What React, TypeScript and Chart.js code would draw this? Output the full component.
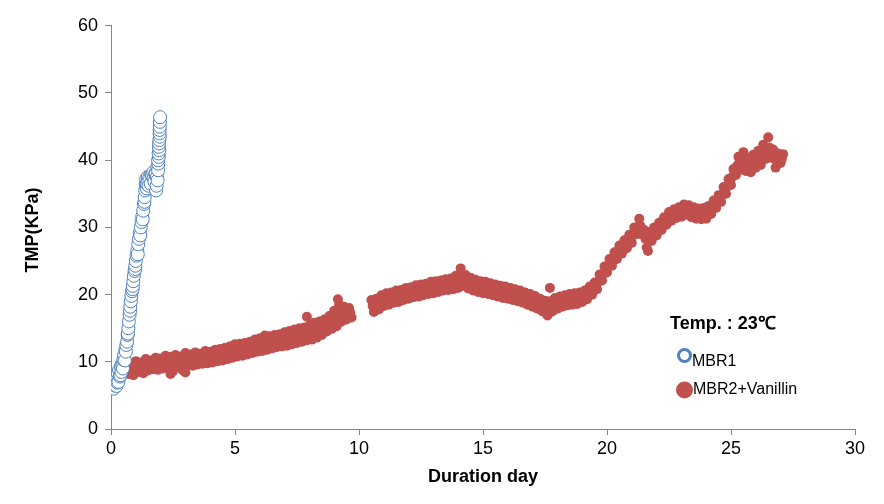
import React, { useEffect, useRef } from "react";
import { Chart, registerables } from "chart.js";

Chart.register(...registerables);

const xTitle = "Duration day";
const yTitle = "TMP(KPa)";
const tempLabel = "Temp. : 23℃";
const seriesNames = ["MBR1", "MBR2+Vanillin"];
const xTicks = [0, 5, 10, 15, 20, 25, 30];
const yTicks = [0, 10, 20, 30, 40, 50, 60];

const mbr1Days = [
  0.0, 0.02, 0.05, 0.08, 0.1, 0.12, 0.14, 0.15, 0.18, 0.2,
  0.22, 0.25, 0.26, 0.28, 0.3, 0.33, 0.36, 0.38, 0.4, 0.42,
  0.45, 0.46, 0.48, 0.5, 0.53, 0.56, 0.58, 0.6, 0.62, 0.65,
  0.67, 0.68, 0.7, 0.72, 0.75, 0.77, 0.78, 0.8, 0.82, 0.85,
  0.87, 0.88, 0.9, 0.92, 0.95, 0.97, 0.98, 1.0, 1.03, 1.06,
  1.08, 1.1, 1.13, 1.16, 1.18, 1.2, 1.23, 1.26, 1.28, 1.3,
  1.33, 1.35, 1.36, 1.38, 1.4, 1.42, 1.44, 1.45, 1.48, 1.5,
  1.52, 1.55, 1.6, 1.62, 1.65, 1.7, 1.72, 1.75, 1.78, 1.8,
  1.82, 1.84, 1.85, 1.87, 1.88, 1.9, 1.91, 1.9, 1.93, 1.92,
  1.95, 1.93, 1.94, 1.95, 1.97, 1.96, 1.96, 1.97, 1.97, 1.98,
];
const mbr1Tmp = [
  6.8, 7.5, 6.2, 7.0, 6.0, 7.8, 7.6, 6.5, 7.2, 8.0,
  6.4, 7.5, 6.9, 8.3, 7.0, 8.8, 7.8, 8.0, 9.3, 8.5,
  9.8, 9.5, 9.0, 10.3, 11.0, 10.2, 11.8, 11.5, 12.5, 13.0,
  14.0, 14.2, 15.0, 16.0, 17.0, 17.6, 18.2, 19.0, 19.8, 20.5,
  20.8, 21.3, 22.0, 22.8, 23.5, 23.8, 24.3, 25.0, 25.8, 26.5,
  26.0, 27.5, 28.3, 29.2, 28.8, 30.0, 30.8, 31.6, 31.2, 32.5,
  33.5, 33.8, 34.5, 35.5, 36.5, 37.2, 35.8, 36.5, 37.5, 36.8,
  36.2, 37.5, 36.5, 37.8, 37.8, 38.2, 37.3, 36.8, 38.0, 38.0,
  35.5, 36.2, 37.5, 39.0, 37.0, 38.5, 39.5, 40.0, 40.5, 41.0,
  41.5, 42.0, 42.5, 43.0, 43.5, 44.0, 44.5, 45.0, 45.7, 46.4,
];

const mbr2Days = [
  0.6, 0.7, 0.8, 0.9, 1.0, 1.1, 1.2, 1.3, 1.4, 1.5,
  1.6, 1.7, 1.8, 1.9, 2.0, 2.1, 2.2, 2.3, 2.4, 2.5,
  2.6, 2.7, 2.8, 2.9, 3.0, 3.1, 3.2, 3.3, 3.4, 3.5,
  3.6, 3.7, 3.8, 3.9, 4.0, 4.1, 4.2, 4.3, 4.4, 4.5,
  4.6, 4.7, 4.8, 4.9, 5.0, 5.1, 5.2, 5.3, 5.4, 5.5,
  5.6, 5.7, 5.8, 5.9, 6.0, 6.1, 6.2, 6.3, 6.4, 6.5,
  6.6, 6.7, 6.8, 6.9, 7.0, 7.1, 7.2, 7.3, 7.4, 7.5,
  7.6, 7.7, 7.8, 7.9, 8.0, 8.1, 8.2, 8.3, 8.4, 8.5,
  8.6, 8.7, 8.8, 8.9, 9.0, 9.1, 9.2, 9.3, 9.4, 9.5,
  9.6, 9.7,
  10.5, 10.6, 10.7, 10.8, 10.9, 11.0, 11.1, 11.2, 11.3, 11.4,
  11.5, 11.6, 11.7, 11.8, 11.9, 12.0, 12.1, 12.2, 12.3, 12.4,
  12.5, 12.6, 12.7, 12.8, 12.9, 13.0, 13.1, 13.2, 13.3, 13.4,
  13.5, 13.6, 13.7, 13.8, 13.9, 14.0, 14.1, 14.2, 14.3, 14.4,
  14.5, 14.6, 14.7, 14.8, 14.9, 15.0, 15.1, 15.2, 15.3, 15.4,
  15.5, 15.6, 15.7, 15.8, 15.9, 16.0, 16.1, 16.2, 16.3, 16.4,
  16.5, 16.6, 16.7, 16.8, 16.9, 17.0, 17.1, 17.2, 17.3, 17.4,
  17.5, 17.6, 17.7, 17.8, 17.9, 18.0, 18.1, 18.2, 18.3, 18.4,
  18.5, 18.6, 18.7, 18.8, 18.9, 19.0, 19.1, 19.2, 19.3, 19.4,
  19.5, 19.6, 19.7, 19.8, 19.9, 20.0, 20.1, 20.2, 20.3, 20.4,
  20.5, 20.6, 20.7, 20.8, 20.9, 21.0, 21.1, 21.2, 21.3, 21.4,
  21.5, 21.6, 21.7, 21.8, 21.9, 22.0, 22.1, 22.2, 22.3, 22.4,
  22.5, 22.6, 22.7, 22.8, 22.9, 23.0, 23.1, 23.2, 23.3, 23.4,
  23.5, 23.6, 23.7, 23.8, 23.9, 24.0, 24.1, 24.2, 24.3, 24.4,
  24.5, 24.6, 24.7, 24.8, 24.9, 25.0, 25.1, 25.2, 25.3, 25.4,
  25.5, 25.6, 25.7, 25.8, 25.9, 26.0, 26.1, 26.2, 26.3, 26.4,
  26.5, 26.6, 26.7, 26.8, 26.9, 27.0, 27.1,
  2.4, 3.0, 7.9, 9.15, 17.7, 21.65,
];
const mbr2Tmp = [
  9.8, 8.2, 9.6, 8.0, 10.1, 8.5, 9.9, 8.3, 10.4, 8.7,
  10.2, 8.9, 10.6, 8.8, 10.5, 9.0, 10.9, 9.1, 10.7, 8.6,
  11.0, 9.3, 10.8, 8.7, 11.3, 9.5, 11.1, 9.4, 11.4, 9.6,
  11.2, 9.7, 11.6, 9.8, 11.5, 9.9, 11.8, 10.1, 11.9, 10.2,
  12.1, 10.4, 12.3, 10.6, 12.6, 10.8, 12.7, 10.9, 12.8, 11.1,
  13.0, 11.3, 13.3, 11.5, 13.5, 11.6, 13.9, 11.8, 13.8, 12.0,
  14.0, 12.2, 14.1, 12.3, 14.4, 12.4, 14.6, 12.6, 14.8, 12.8,
  15.0, 13.0, 15.1, 13.2, 15.4, 13.3, 15.8, 13.6, 16.0, 14.0,
  16.3, 14.5, 16.8, 14.9, 17.6, 15.3, 18.5, 16.0, 18.2, 16.3,
  18.0, 16.6,
  19.2, 17.4, 19.4, 17.8, 19.9, 18.3, 20.2, 18.5, 20.3, 18.8,
  20.6, 18.9, 20.7, 19.2, 21.0, 19.4, 21.1, 19.6, 21.4, 19.7,
  21.5, 19.9, 21.6, 20.1, 21.9, 20.2, 22.0, 20.4, 22.1, 20.6,
  22.3, 20.7, 22.4, 20.8, 22.8, 21.0, 23.9, 21.3, 22.9, 20.9,
  22.5, 20.6, 22.2, 20.4, 22.0, 20.2, 21.9, 20.1, 21.7, 19.9,
  21.5, 19.7, 21.3, 19.5, 21.2, 19.4, 21.0, 19.2, 20.8, 19.0,
  20.6, 18.8, 20.3, 18.5, 20.1, 18.2, 19.8, 17.9, 19.4, 17.5,
  19.1, 16.9, 19.0, 17.5, 19.5, 17.9, 19.7, 18.2, 19.9, 18.4,
  20.1, 18.5, 20.2, 18.6, 20.3, 18.9, 20.6, 19.3, 21.2, 20.0,
  21.8, 20.8, 23.0, 22.1, 24.2, 23.3, 25.3, 24.3, 26.3, 25.3,
  27.3, 26.1, 28.1, 26.9, 28.9, 27.7, 30.0, 29.0, 31.3, 29.0,
  29.6, 27.0, 29.3, 28.0, 30.0, 28.8, 30.7, 29.6, 31.5, 30.4,
  32.3, 31.0, 32.7, 31.4, 33.0, 31.6, 33.4, 31.9, 33.3, 31.5,
  33.0, 31.3, 32.8, 31.2, 32.9, 31.3, 33.2, 32.0, 34.0, 32.9,
  34.8, 33.8, 36.0, 35.0, 37.2, 36.3, 38.7, 37.8, 40.5, 38.6,
  41.2, 38.4, 40.3, 38.2, 40.8, 38.9, 41.4, 39.3, 42.3, 40.2,
  43.4, 40.4, 41.6, 38.9, 41.0, 39.6, 40.9,
  8.2, 8.4, 16.7, 19.3, 21.0, 26.5,
];

const mbr2MidDays = [
  0.65, 0.75, 0.85, 0.95, 1.05, 1.15, 1.25, 1.35, 1.45, 1.55,
  1.65, 1.75, 1.85, 1.95, 2.05, 2.15, 2.25, 2.35, 2.45, 2.55,
  2.65, 2.75, 2.85, 2.95, 3.05, 3.15, 3.25, 3.35, 3.45, 3.55,
  3.65, 3.75, 3.85, 3.95, 4.05, 4.15, 4.25, 4.35, 4.45, 4.55,
  4.65, 4.75, 4.85, 4.95, 5.05, 5.15, 5.25, 5.35, 5.45, 5.55,
  5.65, 5.75, 5.85, 5.95, 6.05, 6.15, 6.25, 6.35, 6.45, 6.55,
  6.65, 6.75, 6.85, 6.95, 7.05, 7.15, 7.25, 7.35, 7.45, 7.55,
  7.65, 7.75, 7.85, 7.95, 8.05, 8.15, 8.25, 8.35, 8.45, 8.55,
  8.65, 8.75, 8.85, 8.95, 9.05, 9.15, 9.25, 9.35, 9.45, 9.55,
  9.65,
  10.55, 10.65, 10.75, 10.85, 10.95, 11.05, 11.15, 11.25, 11.35, 11.45,
  11.55, 11.65, 11.75, 11.85, 11.95, 12.05, 12.15, 12.25, 12.35, 12.45,
  12.55, 12.65, 12.75, 12.85, 12.95, 13.05, 13.15, 13.25, 13.35, 13.45,
  13.55, 13.65, 13.75, 13.85, 13.95, 14.05, 14.15, 14.25, 14.35, 14.45,
  14.55, 14.65, 14.75, 14.85, 14.95, 15.05, 15.15, 15.25, 15.35, 15.45,
  15.55, 15.65, 15.75, 15.85, 15.95, 16.05, 16.15, 16.25, 16.35, 16.45,
  16.55, 16.65, 16.75, 16.85, 16.95, 17.05, 17.15, 17.25, 17.35, 17.45,
  17.55, 17.65, 17.75, 17.85, 17.95, 18.05, 18.15, 18.25, 18.35, 18.45,
  18.55, 18.65, 18.75, 18.85, 18.95, 19.05, 19.15, 19.25, 19.35, 19.45,
  19.55, 19.65, 19.75, 19.85, 19.95, 20.05, 20.15, 20.25, 20.35, 20.45,
  20.55, 20.65, 20.75, 20.85, 20.95, 21.05, 21.15, 21.25, 21.35, 21.45,
  21.55, 21.65, 21.75, 21.85, 21.95, 22.05, 22.15, 22.25, 22.35, 22.45,
  22.55, 22.65, 22.75, 22.85, 22.95, 23.05, 23.15, 23.25, 23.35, 23.45,
  23.55, 23.65, 23.75, 23.85, 23.95, 24.05, 24.15, 24.25, 24.35, 24.45,
  24.55, 24.65, 24.75, 24.85, 24.95, 25.05, 25.15, 25.25, 25.35, 25.45,
  25.55, 25.65, 25.75, 25.85, 25.95, 26.05, 26.15, 26.25, 26.35, 26.45,
  26.55, 26.65, 26.75, 26.85, 26.95, 27.05,
];
const mbr2MidTmp = [
  9.0, 8.9, 8.8, 9.1, 9.3, 9.2, 9.1, 9.4, 9.5, 9.4,
  9.6, 9.7, 9.7, 9.6, 9.8, 9.9, 10.0, 9.9, 9.7, 9.8,
  10.2, 10.0, 9.8, 10.0, 10.4, 10.3, 10.2, 10.4, 10.5, 10.4,
  10.5, 10.6, 10.7, 10.6, 10.7, 10.9, 10.9, 11.0, 11.1, 11.1,
  11.3, 11.3, 11.5, 11.6, 11.7, 11.8, 11.8, 11.9, 11.9, 12.1,
  12.2, 12.3, 12.4, 12.5, 12.6, 12.7, 12.9, 12.8, 12.9, 13.0,
  13.1, 13.2, 13.2, 13.4, 13.4, 13.5, 13.6, 13.7, 13.8, 13.9,
  14.0, 14.1, 14.1, 14.3, 14.4, 14.5, 14.7, 14.8, 15.0, 15.2,
  15.4, 15.6, 15.9, 16.2, 16.5, 16.9, 17.2, 17.1, 17.3, 17.1,
  17.3,
  18.3, 18.4, 18.6, 18.8, 19.1, 19.2, 19.4, 19.4, 19.6, 19.7,
  19.8, 19.8, 20.0, 20.1, 20.2, 20.3, 20.3, 20.5, 20.6, 20.6,
  20.7, 20.8, 20.8, 21.0, 21.1, 21.1, 21.2, 21.3, 21.3, 21.4,
  21.5, 21.6, 21.6, 21.8, 21.9, 22.4, 22.6, 22.1, 21.9, 21.7,
  21.6, 21.4, 21.3, 21.2, 21.1, 21.0, 21.0, 20.9, 20.8, 20.7,
  20.6, 20.5, 20.4, 20.3, 20.3, 20.2, 20.1, 20.0, 19.9, 19.8,
  19.7, 19.6, 19.4, 19.3, 19.1, 19.0, 18.9, 18.6, 18.5, 18.3,
  18.0, 17.9, 18.3, 18.5, 18.7, 18.8, 19.0, 19.0, 19.2, 19.2,
  19.3, 19.4, 19.4, 19.5, 19.6, 19.8, 19.9, 20.3, 20.6, 20.9,
  21.3, 21.9, 22.6, 23.1, 23.8, 24.3, 24.8, 25.3, 25.8, 26.3,
  26.7, 27.1, 27.5, 27.9, 28.3, 28.9, 29.5, 30.1, 30.2, 29.3,
  28.3, 28.1, 28.7, 29.0, 29.4, 29.8, 30.1, 30.6, 30.9, 31.4,
  31.6, 31.9, 32.0, 32.2, 32.3, 32.5, 32.7, 32.6, 32.4, 32.2,
  32.2, 32.0, 32.0, 32.1, 32.1, 32.2, 32.6, 33.0, 33.4, 33.9,
  34.3, 34.9, 35.5, 36.1, 36.8, 37.5, 38.2, 39.2, 39.6, 39.9,
  39.8, 39.3, 39.2, 39.5, 39.9, 40.1, 40.4, 40.8, 41.2, 41.8,
  41.9, 41.0, 40.2, 40.0, 40.3, 40.2,
];

const BLUE = "#4F81BD";
const RED = "#C0504D";
const AXIS = "#868686";
const FONT = '"Liberation Sans", Arial, sans-serif';

const toPoints = (xs: number[], ys: number[]) =>
  xs.map((x, i) => ({ x, y: ys[i] }));

const overlayPlugin = {
  id: "overlay",
  afterDraw(chart: any) {
    const ctx = chart.ctx as CanvasRenderingContext2D;
    const area = chart.chartArea;
    ctx.save();
    ctx.fillStyle = "#000";
    ctx.font = `bold 18px ${FONT}`;
    ctx.textAlign = "center";
    ctx.textBaseline = "middle";
    ctx.fillText(xTitle, (area.left + area.right) / 2, 469);
    ctx.save();
    ctx.translate(25, 222);
    ctx.rotate(-Math.PI / 2);
    ctx.fillText(yTitle, 0, 0);
    ctx.restore();

    ctx.textAlign = "left";
    ctx.fillText(tempLabel, 662, 316);

    ctx.beginPath();
    ctx.arc(676.5, 347.5, 6, 0, Math.PI * 2);
    ctx.fillStyle = "#fff";
    ctx.fill();
    ctx.lineWidth = 3;
    ctx.strokeStyle = BLUE;
    ctx.stroke();

    ctx.beginPath();
    ctx.arc(676.5, 382, 8.5, 0, Math.PI * 2);
    ctx.fillStyle = RED;
    ctx.fill();

    ctx.fillStyle = "#000";
    ctx.font = `16px ${FONT}`;
    ctx.fillText(seriesNames[0], 684, 354);
    ctx.fillText(seriesNames[1], 685, 382);
    ctx.restore();
  },
};

export default function App() {
  const canvasRef = useRef<HTMLCanvasElement | null>(null);

  useEffect(() => {
    if (!canvasRef.current) return;
    const tickFont = { family: FONT, size: 18 };
    const chart = new Chart(canvasRef.current, {
      type: "scatter",
      data: {
        datasets: [
          {
            label: seriesNames[0],
            data: toPoints(mbr1Days, mbr1Tmp),
            pointRadius: 6.5,
            pointBorderWidth: 1,
            pointBorderColor: BLUE,
            pointBackgroundColor: "#ffffff",
          },
          {
            label: seriesNames[1],
            data: [
              ...toPoints(mbr2Days, mbr2Tmp),
              ...toPoints(mbr2MidDays, mbr2MidTmp),
            ],
            pointRadius: 5,
            pointBorderWidth: 0,
            pointBorderColor: RED,
            pointBackgroundColor: RED,
          },
        ],
      },
      options: {
        animation: false,
        responsive: true,
        maintainAspectRatio: false,
        layout: { padding: { top: 11, right: 21, left: 0, bottom: 0 } },
        plugins: {
          legend: { display: false },
          tooltip: { enabled: false },
        },
        scales: {
          x: {
            type: "linear",
            min: 0,
            max: 30,
            afterBuildTicks: (scale: any) => {
              scale.ticks = xTicks.map((v) => ({ value: v }));
            },
            afterFit: (scale: any) => {
              scale.height = 67;
            },
            ticks: { font: tickFont, color: "#000", padding: 3, maxRotation: 0 },
            grid: {
              drawOnChartArea: false,
              drawTicks: true,
              tickLength: 6,
              color: AXIS,
            },
            border: { color: AXIS, width: 1 },
          },
          y: {
            type: "linear",
            min: 0,
            max: 60,
            afterBuildTicks: (scale: any) => {
              scale.ticks = yTicks.map((v) => ({ value: v }));
            },
            afterFit: (scale: any) => {
              scale.width = 103;
            },
            ticks: { font: tickFont, color: "#000", padding: 7 },
            grid: {
              drawOnChartArea: false,
              drawTicks: true,
              tickLength: 6,
              color: AXIS,
            },
            border: { color: AXIS, width: 1 },
          },
        },
      },
      plugins: [overlayPlugin],
    });
    return () => chart.destroy();
  }, []);

  return (
    <div style={{ width: 868, height: 488, position: "relative" }}>
      <canvas ref={canvasRef} />
    </div>
  );
}
